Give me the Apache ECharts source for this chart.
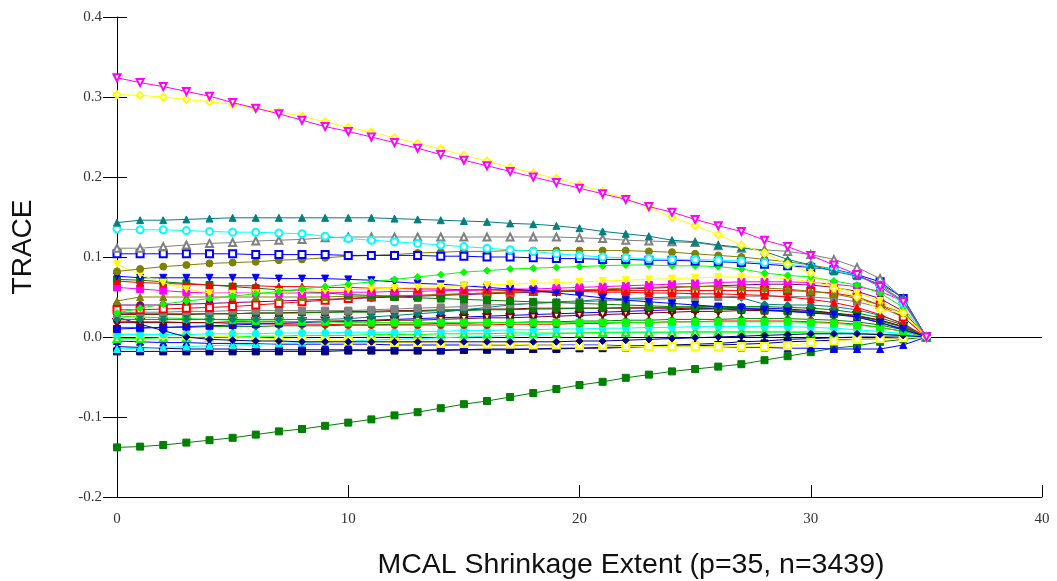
<!DOCTYPE html>
<html><head><meta charset="utf-8">
<script src="https://cdn.jsdelivr.net/npm/echarts@6/dist/echarts.min.js"></script>
<style>html,body{margin:0;padding:0;background:#fff}#c{width:1057px;height:581px}</style>
</head><body><div id="c"></div>
<script>
// ---- data ----
const steps = [0,1,2,3,4,5,6,7,8,9,10,11,12,13,14,15,16,17,18,19,20,21,22,23,24,25,26,27,28,29,30,31,32,33,34,35];
const xTickLabels = ['0','10','20','30','40'];
const yTickLabels = ['-0.2','-0.1','0.0','0.1','0.2','0.3','0.4'];
const xTitle = 'MCAL Shrinkage Extent (p=35, n=3439)';
const yTitle = 'TRACE';

const magentaTri = [.324,.318,.313,.307,.301,.293,.286,.279,.271,.263,.257,.250,.243,.236,.228,.221,.214,.207,.200,.193,.186,.179,.172,.163,.156,.147,.139,.132,.121,.113,.102,.090,.078,.063,.044,0];
const yellowDia = [.303,.302,.300,.297,.294,.291,.286,.281,.276,.269,.262,.256,.249,.242,.235,.227,.220,.212,.205,.198,.190,.182,.173,.162,.150,.139,.128,.115,.105,.091,.080,.061,.050,.034,.030,0];
const tealTri = [.143,.146,.146,.147,.148,.149,.149,.149,.149,.149,.149,.149,.148,.147,.146,.145,.144,.142,.141,.139,.136,.132,.129,.126,.121,.119,.115,.112,.107,.097,.090,.082,.076,.066,.049,0];
const cyanCircle = [.135,.134,.134,.133,.132,.131,.131,.130,.129,.126,.123,.121,.119,.117,.115,.113,.111,.109,.107,.104,.102,.100,.099,.098,.097,.097,.096,.095,.093,.091,.088,.084,.077,.063,.042,0];
const grayTri = [.111,.111,.113,.115,.117,.118,.120,.121,.122,.124,.125,.125,.125,.125,.125,.125,.125,.125,.125,.125,.124,.123,.121,.120,.119,.118,.114,.111,.109,.107,.103,.097,.087,.073,.048,0];
const blueSquare = [.104,.104,.104,.104,.104,.104,.103,.103,.103,.103,.102,.102,.102,.102,.101,.101,.100,.100,.099,.098,.098,.097,.097,.096,.096,.095,.094,.093,.091,.089,.087,.084,.078,.069,.048,0];
const oliveCircle = [.082,.085,.088,.090,.092,.093,.094,.096,.097,.099,.101,.102,.103,.105,.106,.107,.107,.108,.108,.108,.108,.108,.108,.107,.106,.104,.102,.100,.097,.094,.090,.085,.077,.065,.045,0];
const limeDia = [.030,.036,.041,.045,.048,.051,.054,.057,.060,.063,.066,.069,.072,.075,.078,.081,.083,.085,.086,.087,.088,.089,.090,.090,.089,.089,.088,.085,.080,.077,.075,.070,.065,.055,.037,0];
const yellowTri = [.091,.078,.068,.060,.055,.054,.055,.056,.057,.058,.059,.060,.061,.062,.063,.064,.065,.066,.067,.068,.069,.070,.071,.072,.073,.074,.075,.075,.075,.073,.069,.063,.055,.045,.030,0];
const blueTri = [.076,.074,.074,.074,.074,.074,.074,.073,.073,.073,.072,.071,.069,.067,.066,.064,.062,.060,.058,.055,.052,.049,.046,.044,.042,.040,.038,.036,.034,.032,.030,.028,.025,.018,.010,0];
const redTri = [.070,.068,.067,.066,.065,.064,.064,.063,.063,.062,.062,.061,.061,.060,.060,.059,.059,.058,.058,.057,.057,.056,.056,.055,.055,.054,.054,.053,.052,.050,.047,.043,.037,.028,.016,0];
const magentaSquare = [.062,.060,.058,.056,.055,.055,.055,.055,.055,.055,.056,.056,.057,.057,.058,.058,.059,.060,.060,.061,.062,.063,.064,.065,.066,.067,.068,.069,.069,.069,.068,.066,.063,.057,.045,0];
const greenSquare = [.072,.071,.069,.067,.065,.063,.061,.059,.057,.055,.053,.052,.050,.049,.048,.047,.046,.045,.044,.043,.042,.041,.040,.039,.038,.037,.036,.035,.034,.033,.031,.029,.026,.020,.012,0];
const oliveTri = [.045,.050,.050,.050,.050,.050,.050,.050,.050,.050,.051,.051,.052,.052,.053,.054,.055,.056,.057,.058,.059,.060,.061,.062,.063,.063,.063,.062,.061,.060,.057,.054,.048,.040,.030,0];
const redSquare = [.034,.034,.035,.036,.037,.038,.040,.042,.044,.046,.048,.050,.051,.052,.053,.054,.055,.056,.057,.057,.058,.058,.058,.058,.058,.058,.058,.058,.058,.058,.057,.055,.050,.040,.025,0];
const purpleCircle = [.040,.040,.040,.041,.042,.043,.044,.045,.046,.047,.048,.049,.050,.051,.052,.053,.054,.055,.056,.057,.058,.059,.060,.061,.062,.063,.064,.065,.066,.066,.065,.062,.057,.048,.032,0];
const graySquare = [.030,.031,.031,.032,.032,.033,.033,.033,.033,.033,.033,.034,.035,.036,.037,.038,.040,.041,.042,.043,.044,.045,.046,.047,.048,.049,.050,.051,.051,.051,.050,.048,.044,.037,.025,0];
const tealDia = [.022,.022,.022,.022,.022,.022,.022,.022,.022,.022,.023,.025,.027,.029,.031,.034,.037,.040,.042,.044,.045,.047,.048,.049,.050,.050,.050,.049,.041,.040,.040,.038,.034,.027,.017,0];
const greenCircle = [.030,.029,.029,.029,.029,.029,.030,.030,.030,.031,.031,.031,.032,.032,.033,.033,.034,.034,.035,.035,.036,.036,.037,.037,.037,.038,.038,.038,.038,.037,.036,.034,.030,.024,.015,0];
const limeSquare = [.026,.025,.024,.023,.022,.021,.020,.020,.019,.019,.018,.018,.018,.018,.018,.018,.018,.018,.018,.018,.018,.018,.018,.018,.019,.019,.019,.019,.019,.019,.018,.017,.015,.012,.007,0];
const maroonTri = [.018,.018,.018,.018,.018,.019,.019,.019,.019,.020,.020,.020,.021,.021,.022,.023,.024,.024,.025,.026,.027,.028,.029,.030,.031,.032,.032,.033,.033,.033,.032,.030,.027,.021,.013,0];
const maroonSquare = [.028,.028,.028,.028,.029,.029,.030,.030,.031,.031,.032,.032,.033,.033,.034,.034,.035,.035,.036,.036,.036,.036,.036,.036,.036,.035,.035,.034,.033,.032,.031,.029,.026,.021,.013,0];
const blueSquareMid = [.010,.011,.012,.013,.014,.015,.016,.017,.018,.019,.020,.021,.022,.023,.024,.025,.026,.027,.028,.029,.030,.031,.032,.033,.034,.035,.036,.036,.036,.035,.033,.030,.025,.018,.009,0];
const navyDia = [.025,.016,.008,.000,-.003,-.004,-.005,-.005,-.006,-.006,-.006,-.006,-.006,-.006,-.006,-.006,-.006,-.006,-.006,-.006,-.005,-.005,-.004,-.003,-.002,-.001,.000,.001,.002,.003,.004,.004,.004,.003,.002,0];
const yellowSquare = [.005,.004,.003,.002,.001,.000,-.001,-.002,-.003,-.004,-.005,-.006,-.007,-.007,-.008,-.008,-.009,-.009,-.010,-.010,-.011,-.011,-.012,-.012,-.012,-.012,-.012,-.012,-.012,-.011,-.007,-.005,-.003,-.002,-.001,0];
const cyanDot = [.003,.003,.003,.003,.004,.004,.004,.005,.005,.005,.006,.006,.006,.007,.007,.008,.008,.009,.009,.010,.010,.011,.011,.012,.012,.013,.013,.013,.013,.013,.012,.011,.009,.007,.004,0];
const cyanTri = [-.015,-.014,-.013,-.012,-.011,-.010,-.009,-.008,-.007,-.006,-.005,-.004,-.003,-.002,-.001,.000,.001,.002,.003,.004,.005,.005,.006,.006,.006,.007,.007,.007,.007,.007,.007,.006,.005,.004,.002,0];
const blueLow = [-.005,-.006,-.007,-.007,-.008,-.008,-.008,-.009,-.009,-.009,-.009,-.009,-.010,-.010,-.010,-.010,-.010,-.010,-.010,-.010,-.010,-.010,-.011,-.011,-.011,-.012,-.012,-.013,-.013,-.014,-.014,-.015,-.015,-.015,-.010,0];
const navyTri = [-.012,-.013,-.014,-.015,-.015,-.015,-.016,-.016,-.016,-.016,-.016,-.016,-.016,-.016,-.016,-.016,-.015,-.015,-.015,-.014,-.014,-.013,-.012,-.011,-.010,-.009,-.008,-.006,-.005,-.003,-.002,-.001,.000,.000,.000,0];
const navySquare = [-.018,-.018,-.018,-.018,-.018,-.018,-.018,-.018,-.018,-.018,-.017,-.017,-.017,-.017,-.017,-.016,-.016,-.016,-.015,-.015,-.014,-.014,-.013,-.012,-.012,-.011,-.010,-.009,-.008,-.006,-.005,-.004,-.003,-.002,-.001,0];
const darkGreenDia = [.012,.012,.012,.012,.013,.013,.013,.014,.014,.014,.015,.015,.016,.016,.017,.017,.018,.018,.019,.019,.020,.020,.021,.021,.022,.022,.022,.023,.023,.023,.022,.021,.019,.015,.009,0];
const redCircle = [.020,.019,.019,.018,.018,.017,.017,.016,.016,.016,.015,.015,.015,.015,.015,.015,.015,.016,.016,.016,.017,.017,.018,.018,.019,.019,.020,.020,.020,.020,.019,.018,.016,.012,.007,0];
const limeTri = [-.002,-.002,-.001,-.001,.000,.000,.001,.001,.002,.002,.002,.003,.003,.003,.004,.004,.004,.005,.005,.005,.005,.006,.006,.006,.006,.006,.006,.006,.006,.006,.005,.005,.004,.003,.002,0];
const greenLow = [-.138,-.137,-.135,-.132,-.129,-.126,-.122,-.118,-.115,-.111,-.107,-.103,-.098,-.094,-.089,-.084,-.080,-.075,-.070,-.065,-.060,-.056,-.051,-.047,-.043,-.040,-.037,-.034,-.029,-.024,-.019,-.014,-.011,-.006,-.003,0];

// ---- styles ----
const seriesDefs = [
  [greenLow, '#008000', 'rect', 0],
  [navySquare, '#000080', 'rect', 0],
  [navyTri, '#000080', 'triangle', 0],
  [blueLow, '#0000ff', 'triangle', 0],
  [cyanTri, '#00ffff', 'triangle', 0],
  [limeTri, '#00ff00', 'emptyTriangle', 0],
  [yellowSquare, '#ffff00', 'emptyRect', 0],
  [cyanDot, '#00ffff', 'circle', 0],
  [navyDia, '#000080', 'diamond', 0],
  [darkGreenDia, '#008000', 'diamond', 0],
  [redCircle, '#ff0000', 'circle', 0],
  [blueSquareMid, '#0000ff', 'rect', 0],
  [maroonTri, '#800000', 'emptyTriangle', 180],
  [maroonSquare, '#800000', 'rect', 0],
  [limeSquare, '#00ff00', 'rect', 0],
  [greenCircle, '#008000', 'circle', 0],
  [tealDia, '#008080', 'diamond', 0],
  [graySquare, '#808080', 'rect', 0],
  [purpleCircle, '#800080', 'circle', 0],
  [redSquare, '#ff0000', 'emptyRect', 0],
  [oliveTri, '#808000', 'triangle', 0],
  [greenSquare, '#008000', 'rect', 0],
  [magentaSquare, '#ff00ff', 'rect', 0],
  [redTri, '#ff0000', 'triangle', 0],
  [blueTri, '#0000ff', 'triangle', 180],
  [yellowTri, '#ffff00', 'triangle', 180],
  [limeDia, '#00ff00', 'diamond', 0],
  [oliveCircle, '#808000', 'circle', 0],
  [blueSquare, '#0000ff', 'emptyRect', 0],
  [grayTri, '#808080', 'emptyTriangle', 0],
  [cyanCircle, '#00ffff', 'emptyCircle', 0],
  [tealTri, '#008080', 'triangle', 0],
  [yellowDia, '#ffff00', 'emptyDiamond', 0],
  [magentaTri, '#ff00ff', 'emptyTriangle', 180]
];

const series = seriesDefs.map(([vals, color, symbol, rot], i) => ({
  type: 'line',
  data: steps.map((x, j) => [x, vals[j]]),
  color: color,
  symbol: symbol,
  symbolRotate: rot,
  symbolSize: 7,
  showSymbol: true,
  lineStyle: { width: 1, color: color },
  itemStyle: { color: color, borderColor: color, borderWidth: 1 },
  z: 2 + i,
  animation: false,
  markLine: i === 0 ? {
    silent: true, symbol: ['none', 'none'], label: { show: false },
    lineStyle: { color: '#000', width: 1, type: 'solid' },
    data: [{ yAxis: 0 }], animation: false
  } : undefined
}));

const labelFont = { fontFamily: 'Liberation Serif', fontSize: 15, color: '#333' };
const axisLineStyle = { lineStyle: { color: '#000', width: 1 } };

const chart = echarts.init(document.getElementById('c'), null, { renderer: 'canvas' });
chart.setOption({
  animation: false,
  backgroundColor: '#fff',
  grid: { left: 117, right: 15, top: 17, bottom: 84, containLabel: false },
  xAxis: {
    type: 'value', min: 0, max: 40, interval: 10,
    axisLine: { show: true, onZero: false, ...axisLineStyle },
    axisTick: { show: true, inside: true, length: 12, lineStyle: { color: '#000' } },
    axisLabel: { ...labelFont, margin: 15, formatter: v => xTickLabels[Math.round(v / 10)] },
    splitLine: { show: false }
  },
  yAxis: [{
    type: 'value', min: -0.2, max: 0.4, interval: 0.1,
    axisLine: { show: true, onZero: false, ...axisLineStyle },
    axisTick: { show: true, inside: false, length: 14, lineStyle: { color: '#000' } },
    axisLabel: { ...labelFont, margin: 15, formatter: v => yTickLabels[Math.round((v + 0.2) * 10)] },
    splitLine: { show: false }
  }, {
    type: 'value', min: -0.2, max: 0.4, interval: 0.1, position: 'left',
    axisLine: { show: false },
    axisTick: { show: true, inside: true, length: 10, lineStyle: { color: '#000' } },
    axisLabel: { show: false },
    splitLine: { show: false }
  }],
  graphic: [
    { type: 'text', x: 23, y: 247, rotation: Math.PI / 2,
      style: { text: yTitle, font: '28px "Liberation Sans"', fill: '#111', textAlign: 'center', textVerticalAlign: 'middle' } },
    { type: 'text', x: 631, y: 565,
      style: { text: xTitle, font: '28.5px "Liberation Sans"', fill: '#111', textAlign: 'center', textVerticalAlign: 'middle' } }
  ],
  series: series
});
</script>
</body></html>
